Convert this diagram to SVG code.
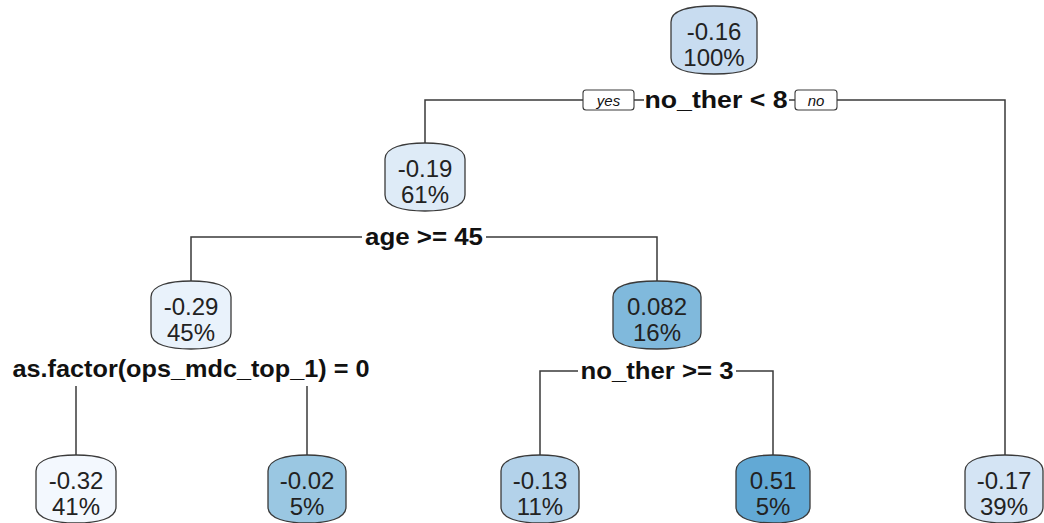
<svg xmlns="http://www.w3.org/2000/svg" width="1044" height="523" viewBox="0 0 1044 523">
<defs>
<style>
.box{stroke:#3a3a3a;stroke-width:1.3}
.nt{font-family:"Liberation Sans",Arial,sans-serif;font-size:24px;fill:#222;text-anchor:middle}
.sl{font-family:"Liberation Sans",Arial,sans-serif;font-size:24px;font-weight:bold;fill:#111;text-anchor:middle}
.yn{font-family:"Liberation Sans",Arial,sans-serif;font-size:15px;font-style:italic;fill:#111;text-anchor:middle}
.ynb{fill:#fff;stroke:#3a3a3a;stroke-width:1.1}
.con{fill:none;stroke:#3a3a3a;stroke-width:1.5}
</style>
</defs>
<rect width="1044" height="523" fill="#fff"/>
<g id="connectors">
<path class="con" d="M583,100 H425 V143"/>
<path class="con" d="M634,100 H644"/>
<path class="con" d="M789,100 H795"/>
<path class="con" d="M837,100 H1005 V455"/>
<path class="con" d="M362,237 H191 V281"/>
<path class="con" d="M486,237 H657 V281"/>
<path class="con" d="M76,386 V455"/>
<path class="con" d="M307,386 V455"/>
<path class="con" d="M578,371 H540 V455"/>
<path class="con" d="M736,371 H773 V455"/>
<rect class="ynb" x="583" y="90" width="51" height="20" rx="3"/>
<text class="yn" x="608.5" y="105.5">yes</text>
<rect class="ynb" x="795" y="90" width="42" height="20" rx="3"/>
<text class="yn" x="816" y="105.5">no</text>
</g>
<g id="n1">
<path class="box" fill="#c8dcf0" d="M671,22 C671,10 690,6 714,6 C738,6 757,10 757,22 V58 C757,70 738,74 714,74 C690,74 671,70 671,58 Z"/>
<text class="nt" x="714" y="40">-0.16</text>
<text class="nt" x="714" y="66">100%</text>
<text class="sl" x="716" y="108" textLength="143" lengthAdjust="spacingAndGlyphs">no_ther &lt; 8</text>
</g>
<g id="n2">
<path class="box" fill="#deebf7" d="M385,159 C385,147 404,143 425,143 C446,143 465,147 465,159 V195 C465,207 446,211 425,211 C404,211 385,207 385,195 Z"/>
<text class="nt" x="425" y="177">-0.19</text>
<text class="nt" x="425" y="203">61%</text>
<text class="sl" x="424" y="245" textLength="118" lengthAdjust="spacingAndGlyphs">age &gt;= 45</text>
</g>
<g id="n3">
<path class="box" fill="#d4e4f4" d="M965,471 C965,459 984,455 1005,455 C1026,455 1043,459 1043,471 V507 C1043,519 1026,523 1005,523 C984,523 965,519 965,507 Z"/>
<text class="nt" x="1004" y="489">-0.17</text>
<text class="nt" x="1004" y="515">39%</text>
</g>
<g id="n4">
<path class="box" fill="#e9f2fb" d="M151,297 C151,285 170,281 191,281 C212,281 231,285 231,297 V333 C231,345 212,349 191,349 C170,349 151,345 151,333 Z"/>
<text class="nt" x="191" y="315">-0.29</text>
<text class="nt" x="191" y="341">45%</text>
<text class="sl" x="191" y="377" textLength="357" lengthAdjust="spacingAndGlyphs">as.factor(ops_mdc_top_1) = 0</text>
</g>
<g id="n5">
<path class="box" fill="#80b9dc" d="M613,297 C613,285 633,281 657,281 C681,281 701,285 701,297 V333 C701,345 681,349 657,349 C633,349 613,345 613,333 Z"/>
<text class="nt" x="657" y="315">0.082</text>
<text class="nt" x="657" y="341">16%</text>
<text class="sl" x="657" y="379" textLength="153" lengthAdjust="spacingAndGlyphs">no_ther &gt;= 3</text>
</g>
<g id="n6">
<path class="box" fill="#f3f8fe" d="M36,471 C36,459 55,455 76,455 C97,455 116,459 116,471 V507 C116,519 97,523 76,523 C55,523 36,519 36,507 Z"/>
<text class="nt" x="76" y="489">-0.32</text>
<text class="nt" x="76" y="515">41%</text>
</g>
<g id="n7">
<path class="box" fill="#9ac7e2" d="M268,471 C268,459 287,455 307,455 C327,455 346,459 346,471 V507 C346,519 327,523 307,523 C287,523 268,519 268,507 Z"/>
<text class="nt" x="307" y="489">-0.02</text>
<text class="nt" x="307" y="515">5%</text>
</g>
<g id="n8">
<path class="box" fill="#b3d2ea" d="M501,471 C501,459 520,455 540,455 C560,455 579,459 579,471 V507 C579,519 560,523 540,523 C520,523 501,519 501,507 Z"/>
<text class="nt" x="540" y="489">-0.13</text>
<text class="nt" x="540" y="515">11%</text>
</g>
<g id="n9">
<path class="box" fill="#62a9d5" d="M736,471 C736,459 754,455 773,455 C792,455 810,459 810,471 V507 C810,519 792,523 773,523 C754,523 736,519 736,507 Z"/>
<text class="nt" x="773" y="489">0.51</text>
<text class="nt" x="773" y="515">5%</text>
</g>
</svg>
